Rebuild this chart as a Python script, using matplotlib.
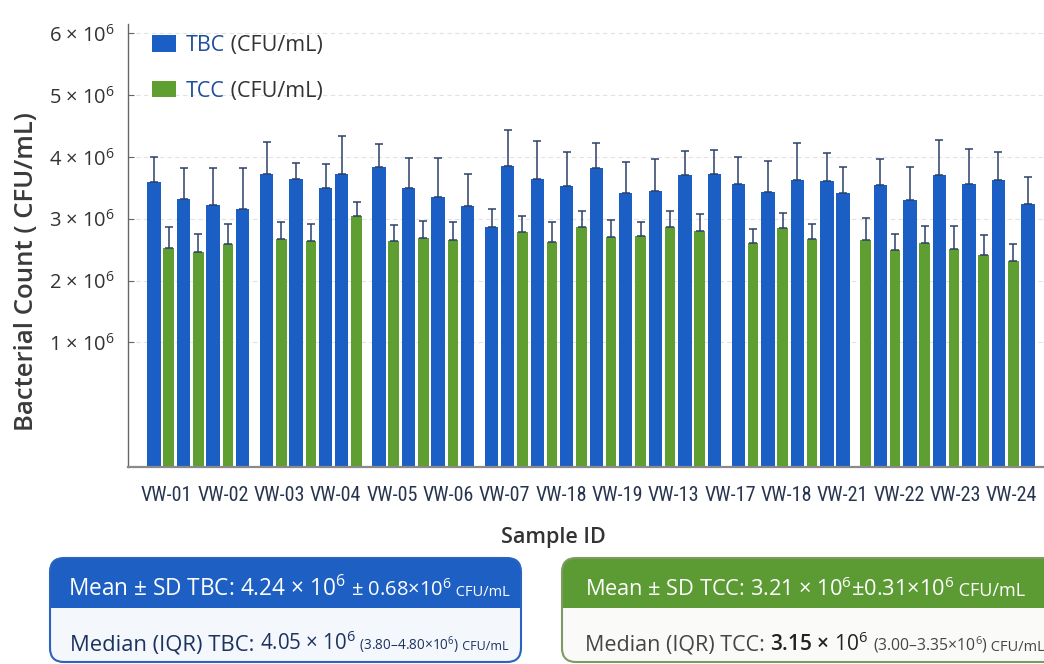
import matplotlib
matplotlib.use("Agg")
import matplotlib.pyplot as plt
import numpy as np
from matplotlib.patches import FancyBboxPatch, Rectangle
from matplotlib.offsetbox import TextArea, HPacker, AnnotationBbox
from matplotlib import font_manager

FONT = "Open Sans"
plt.rcParams["font.family"] = [FONT, "DejaVu Sans"]
plt.rcParams["mathtext.fontset"] = "custom"
plt.rcParams["mathtext.rm"] = FONT
plt.rcParams["mathtext.it"] = FONT + ":italic"
plt.rcParams["mathtext.bf"] = FONT + ":bold"

# look for a condensed face for the sample labels
narrow_file = None
for f in font_manager.fontManager.ttflist:
    cond = f.stretch in ("condensed", "semi-condensed") or "Condensed" in f.name or "Narrow" in f.name
    if cond and f.style == "normal" and f.weight in (400, "normal", "regular") and \
            any(k in f.name for k in ("Open Sans", "Noto Sans", "Roboto", "Liberation")):
        if "CJK" not in f.name and "Mono" not in f.name:
            narrow_file = f.fname
            break

# ---- data (values in 10^6 CFU/mL) ----
sample_ids = ["VW-01", "VW-02", "VW-03", "VW-04", "VW-05", "VW-06", "VW-07", "VW-18",
              "VW-19", "VW-13", "VW-17", "VW-18", "VW-21", "VW-22", "VW-23", "VW-24"]

group_sizes = [7, 7, 7, 16, 8, 12]

bar_series = ["TBC", "TCC", "TBC", "TCC", "TBC", "TCC", "TBC",
              "TBC", "TCC", "TBC", "TCC", "TBC", "TBC", "TCC",
              "TBC", "TCC", "TBC", "TCC", "TBC", "TCC", "TBC",
              "TBC", "TBC", "TCC", "TBC", "TCC", "TBC", "TCC", "TBC",
              "TCC", "TBC", "TCC", "TBC", "TCC", "TBC", "TCC", "TBC",
              "TBC", "TCC", "TBC", "TCC", "TBC", "TCC", "TBC", "TBC",
              "TCC", "TBC", "TCC", "TBC", "TCC", "TBC", "TCC", "TBC",
              "TCC", "TBC", "TCC", "TBC"]

bar_values = [3.59, 2.52, 3.32, 2.46, 3.22, 2.59, 3.16,
              3.73, 2.67, 3.65, 2.64, 3.49, 3.73, 3.04,
              3.84, 2.64, 3.49, 2.69, 3.36, 2.65, 3.21,
              2.86, 3.85, 2.79, 3.64, 2.63, 3.53, 2.87, 3.82,
              2.71, 3.42, 2.72, 3.45, 2.86, 3.71, 2.80, 3.72,
              3.56, 2.60, 3.43, 2.85, 3.62, 2.68, 3.61, 3.41,
              2.65, 3.54, 2.49, 3.31, 2.61, 3.70, 2.51, 3.56,
              2.41, 3.62, 2.31, 3.24]

bar_errors = [0.41, 0.35, 0.50, 0.29, 0.60, 0.33, 0.66,
              0.51, 0.27, 0.25, 0.27, 0.39, 0.61, 0.23,
              0.37, 0.26, 0.49, 0.27, 0.62, 0.30, 0.52,
              0.29, 0.59, 0.26, 0.62, 0.31, 0.55, 0.26, 0.40,
              0.27, 0.50, 0.23, 0.51, 0.26, 0.38, 0.27, 0.39,
              0.44, 0.24, 0.50, 0.25, 0.61, 0.23, 0.46, 0.42,
              0.36, 0.42, 0.27, 0.53, 0.27, 0.58, 0.37, 0.57,
              0.32, 0.46, 0.28, 0.44]

y_ticks = [1, 2, 3, 4, 5, 6]

# ---- styles ----
colors = {"TBC": "#1b5fc4", "TCC": "#5f9e31"}
widths = {"TBC": 0.95, "TCC": 0.75}
bar_gap = 0.2
group_gap = 0.55
err_color = "#2c4068"
y_floor = -1.015

# bar positions along the axis
x_pos = []
group_end = np.cumsum(group_sizes)
pos = 0.0
for i, s in enumerate(bar_series):
    if i > 0:
        pos += (widths[bar_series[i - 1]] + widths[s]) / 2 + bar_gap
        if i in group_end:
            pos += group_gap
    x_pos.append(pos)
x_pos = np.array(x_pos)
vals = np.array(bar_values)
errs = np.array(bar_errors)
span = x_pos[-1] - x_pos[0]

fig = plt.figure(figsize=(10.44, 6.64), dpi=100)
ax = fig.add_axes([128 / 1044, 197 / 664, 916 / 1044, 443 / 664])

for s in ["TBC", "TCC"]:
    m = np.array([b == s for b in bar_series])
    ax.bar(x_pos[m], vals[m] - y_floor, bottom=y_floor, width=widths[s],
           color=colors[s], zorder=2, label=s)
    ax.errorbar(x_pos[m], vals[m], yerr=[np.zeros(m.sum()), errs[m]], fmt="none",
                ecolor=err_color, elinewidth=1.1, capsize=2.6, capthick=1.1, zorder=3)

ax.set_ylim(y_floor, 6.15)
ax.set_xlim(x_pos[0] - span * 26 / 874, x_pos[-1] + span * 16 / 874)
ax.set_yticks(y_ticks)
ax.set_yticklabels([f"{t} × $10^{{6}}$" for t in y_ticks], fontsize=14.5, color="#333333")
ax.tick_params(axis="y", direction="in", length=4, width=0.8, color="#666666", pad=9)

tick_x = x_pos[0] + span * np.linspace(12.7 / 874, 857.7 / 874, len(sample_ids))
ax.set_xticks(tick_x)
if narrow_file:
    xfont = font_manager.FontProperties(fname=narrow_file, size=14.5)
else:
    xfont = font_manager.FontProperties(family=FONT, size=12.3)
ax.set_xticklabels(sample_ids, color="#27344f", fontproperties=xfont)
ax.tick_params(axis="x", length=0, pad=14)

ax.yaxis.grid(True, linestyle=(0, (4, 3)), color="#e2e2e2", linewidth=0.8, zorder=0)
ax.set_axisbelow(True)
for sp in ["top", "right"]:
    ax.spines[sp].set_visible(False)
ax.spines["left"].set_color("#666666")
ax.spines["left"].set_linewidth(1.0)
ax.spines["bottom"].set_color("#8a8a8a")
ax.spines["bottom"].set_linewidth(1.6)

fig.text(27 / 1044, 1 - 272 / 664, "Bacterial Count ( CFU/mL)", rotation=90,
         ha="center", va="center", fontsize=18.5, fontweight="semibold", color="#3a3a3a")
fig.text(553 / 1044, 1 - 537 / 664, "Sample ID", ha="center", va="center",
         fontsize=15.5, fontweight="semibold", color="#333333")

# legend
leg = ax.legend(loc="upper left", bbox_to_anchor=(152 / 1044, 1 - 35 / 664),
                bbox_transform=fig.transFigure, frameon=False, borderpad=0,
                borderaxespad=0, fontsize=15.5, handlelength=1.12, handleheight=0.78,
                handletextpad=0.47, labelspacing=1.15)
for t in leg.get_texts():
    t.set_color("#1f4e9c")
    ax.annotate(" (CFU/mL)", xy=(1, 0), xycoords=t, ha="left", va="bottom",
                fontsize=15.5, color="#333333", zorder=10, annotation_clip=False)


# summary boxes
def summary_box(x0, x1, fill, edge, head):
    y0, y1 = 2 / 100, 106 / 100
    box = FancyBboxPatch((x0 / 100, y0), (x1 - x0) / 100, y1 - y0,
                         boxstyle="round,pad=0,rounding_size=0.14",
                         transform=fig.dpi_scale_trans, facecolor=fill, edgecolor="none")
    fig.add_artist(box)
    hdr = Rectangle((x0 / 100, 56 / 100), (x1 - x0) / 100, 50 / 100,
                    transform=fig.dpi_scale_trans, facecolor=head, edgecolor="none")
    fig.add_artist(hdr)
    hdr.set_clip_path(box)
    border = FancyBboxPatch((x0 / 100, y0), (x1 - x0) / 100, y1 - y0,
                            boxstyle="round,pad=0,rounding_size=0.14",
                            transform=fig.dpi_scale_trans, facecolor="none",
                            edgecolor=edge, linewidth=1.5)
    fig.add_artist(border)


def rich_text(x, y, parts):
    areas = [TextArea(s, textprops=dict(fontsize=fs, color=c, fontweight=w))
             for s, fs, c, w in parts]
    box = HPacker(children=areas, align="baseline", pad=0, sep=0)
    ab = AnnotationBbox(box, (x / 1044, 1 - y / 664), xycoords="figure fraction",
                        box_alignment=(0, 0.5), frameon=False, pad=0)
    fig.add_artist(ab)


summary_box(50, 521, "#f4f7fc", "#2a63bf", "#1d5fc2")
summary_box(562, 1070, "#fafaf8", "#7d9a62", "#5c9b34")

white = "white"
navy = "#1c3260"
grey = "#454545"
rich_text(68, 589, [("Mean ± SD TBC: 4.24 × $10^{6}$", 16.3, white, "normal"),
                    (" ± 0.68×$10^{6}$", 14.5, white, "normal"),
                    (" CFU/mL", 10.5, white, "normal")])
rich_text(70, 644, [("Median (IQR) TBC: ", 15.8, navy, "normal"),
                    ("4.05 × $10^{6}$", 14.8, navy, "normal"),
                    (" (3.80–4.80×$10^{6}$)", 9.8, navy, "normal"),
                    (" CFU/mL", 9, navy, "normal")])
rich_text(585, 589, [("Mean ± SD TCC: 3.21 × $10^{6}$±0.31×$10^{6}$", 15.7, white, "normal"),
                     (" CFU/mL", 13, white, "normal")])
rich_text(585, 644, [("Median (IQR) TCC: ", 15.5, grey, "normal"),
                     ("3.15 × $10^{6}$", 15, "#222222", "semibold"),
                     (" (3.00–3.35×$10^{6}$)", 11.3, grey, "normal"),
                     (" CFU/mL", 10.5, grey, "normal")])

fig.savefig("out.png", dpi=100)
